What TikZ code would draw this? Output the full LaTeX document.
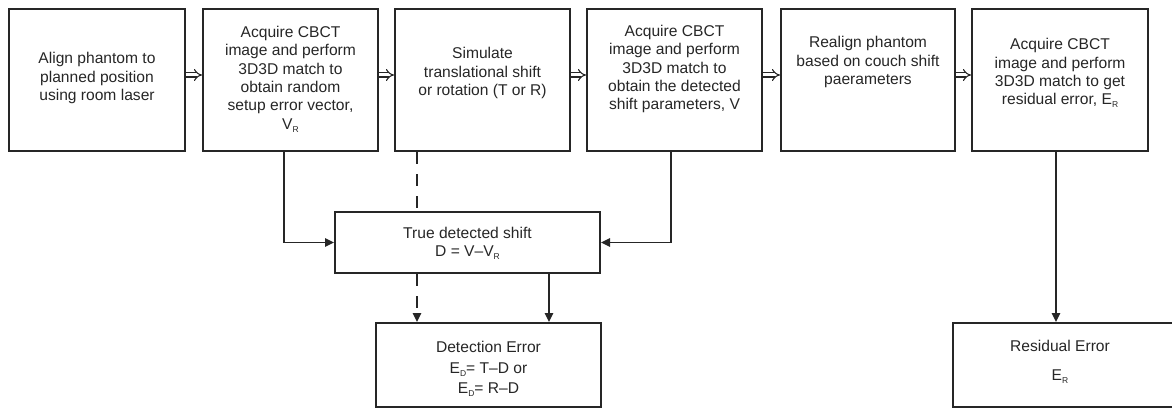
\documentclass[tikz,border=0pt]{standalone}
\usepackage{fontspec}
\setmainfont{Liberation Sans}
\usetikzlibrary{arrows.meta,calc}
\newcommand{\subR}[1]{\raisebox{-0.35ex}{\fontsize{8.5}{8.5}\selectfont #1}}
\begin{document}
\begin{tikzpicture}[x=1pt,y=-1pt,
  box/.style={draw=black!85,line width=2pt,inner sep=0pt},
  lbl/.style={align=center,inner sep=0pt,font=\fontsize{15.6}{18.4}\selectfont,text=black!85},
  arr/.style={draw=black!85,line width=1.4pt,-{Triangle[length=9pt,width=8.5pt]}},
  darr/.style={draw=black!85,line width=1.4pt,dash pattern=on 12pt off 10pt},
  dbl/.style={draw=black!85,double=white,double distance=3pt,line width=1.1pt,-{Implies}}]
\useasboundingbox (0,0) rectangle (1172,409);
% top row boxes
\node[box,minimum width=176pt,minimum height=142pt] (b1) at (97,80) {};
\node[box,minimum width=175pt,minimum height=142pt] (b2) at (290.5,80) {};
\node[box,minimum width=175pt,minimum height=142pt] (b3) at (482.5,80) {};
\node[box,minimum width=175pt,minimum height=142pt] (b4) at (674.5,80) {};
\node[box,minimum width=174pt,minimum height=142pt] (b5) at (868,80) {};
\node[box,minimum width=176pt,minimum height=142pt] (b6) at (1060,80) {};
% lower boxes
\node[box,minimum width=265pt,minimum height=61pt] (d) at (467.5,242.5) {};
\node[box,minimum width=225pt,minimum height=84pt] (de) at (488.5,365) {};
\node[box,minimum width=223pt,minimum height=84pt] (re) at (1064.5,365) {};
% labels
\node[lbl] (t1) at (97,78) {Align phantom to\\planned position\\using room laser};
\node[lbl] (t2) at (290.5,79) {Acquire CBCT\\image and perform\\3D3D match to\\obtain random\\setup error vector,\\V\subR{R}};
\node[lbl] (t3) at (482.5,73) {Simulate\\translational shift\\or rotation (T or R)};
\node[lbl] (t4) at (674.5,69) {Acquire CBCT\\image and perform\\3D3D match to\\obtain the detected\\shift parameters, V};
\node[lbl] (t5) at (868,62) {Realign phantom\\based on couch shift\\paerameters};
\node[lbl] (t6) at (1060,73) {Acquire CBCT\\image and perform\\3D3D match to get\\residual error, E\subR{R}};
\node[lbl] (td) at (467.5,243) {True detected shift\\D = V–V\subR{R}};
\node[lbl,font=\fontsize{15.6}{20.5}\selectfont] (tde) at (488.5,369) {Detection Error\\E\subR{D}= T–D or\\E\subR{D}= R–D};
\node[lbl,font=\fontsize{15.6}{29}\selectfont] (tre) at (1060,362) {Residual Error\\E\subR{R}};
% double arrows between top boxes
\foreach \a/\b in {b1/b2,b2/b3,b3/b4,b4/b5,b5/b6}{
  \draw[dbl] ([yshift=5pt]\a.east) -- ([yshift=5pt]\b.west);
}
% connectors
\draw[arr] ([xshift=-6.5pt]b2.south) |- (d.west);
\draw[arr] ([xshift=-3.5pt]b4.south) |- (d.east);
\coordinate (c3) at ([xshift=-65.5pt]b3.south);
\draw[darr] (c3) -- (c3 |- d.north);
\coordinate (c3b) at (c3 |- d.south);
\draw[darr,-{Triangle[length=9pt,width=8.5pt]}] (c3b) -- (c3b |- de.north);
\coordinate (cd) at (549,0);
\draw[arr] (cd |- d.south) -- (cd |- de.north);
\coordinate (c6) at ([xshift=-4pt]b6.south);
\draw[arr] (c6) -- (c6 |- re.north);
\end{tikzpicture}
\end{document}
